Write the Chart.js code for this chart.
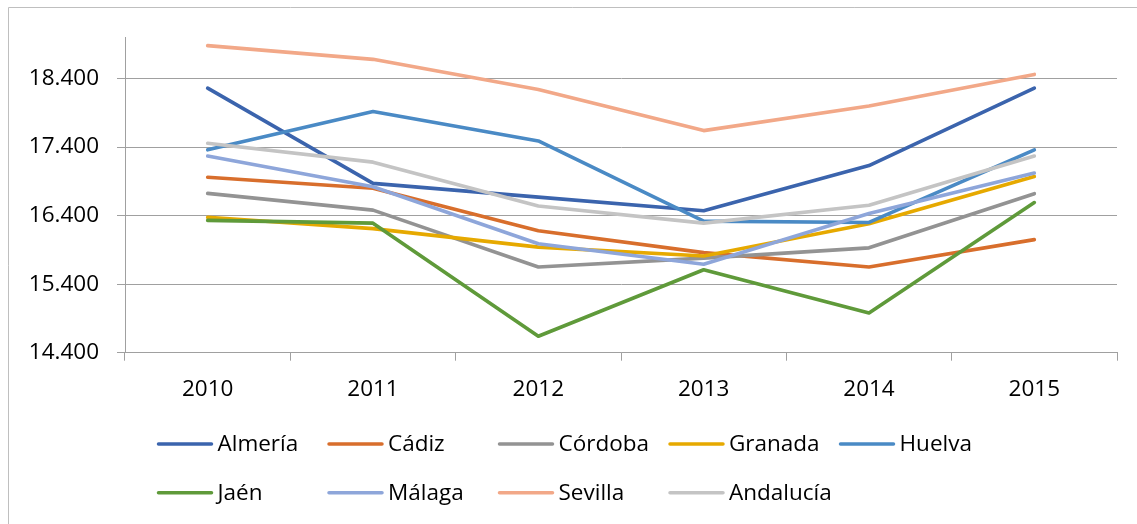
<!DOCTYPE html>
<html lang="es">
<head>
<meta charset="UTF-8">
<title>Andalucía 2010-2015</title>
<script src="https://cdn.jsdelivr.net/npm/chart.js"></script>
<style>
  body { margin: 0; background: #fff; }
  canvas { display: block; }
</style>
</head>
<body>
<canvas id="chart" width="1137" height="524"></canvas>
<script>
// categories and values
const years = ['2010', '2011', '2012', '2013', '2014', '2015'];
const yTicks = [14400, 15400, 16400, 17400, 18400];

const seriesNames = ['Almería', 'Cádiz', 'Córdoba', 'Granada', 'Huelva', 'Jaén', 'Málaga', 'Sevilla', 'Andalucía'];
const almeria   = [18260, 16870, 16670, 16470, 17130, 18260];
const cadiz     = [16960, 16800, 16180, 15860, 15650, 16050];
const cordoba   = [16725, 16480, 15650, 15780, 15930, 16720];
const granada   = [16375, 16210, 15940, 15810, 16280, 16970];
const huelva    = [17360, 17920, 17490, 16320, 16300, 17360];
const jaen      = [16330, 16290, 14640, 15610, 14980, 16590];
const malaga    = [17270, 16820, 15990, 15690, 16430, 17020];
const sevilla   = [18880, 18680, 18240, 17640, 18000, 18460];
const andalucia = [17455, 17180, 16540, 16290, 16550, 17270];

const seriesValues = [almeria, cadiz, cordoba, granada, huelva, jaen, malaga, sevilla, andalucia];
const seriesColors = ['#3B64AD', '#D86E2C', '#939393', '#E6A900', '#4A8AC5', '#5F9A3A', '#8EA6DA', '#F2A888', '#C4C4C4'];

const gridColor = '#A0A0A0';
const fontFamily = "'Open Sans', sans-serif";

// thousands separator with a dot, like the original
function fmt(v) {
  return String(v).replace(/\B(?=(\d{3})+(?!\d))/g, '.');
}

// legend laid out as a grid of 5 columns, plus the outer frame
const legendAndFrame = {
  id: 'legendAndFrame',
  afterDraw(chart) {
    const ctx = chart.ctx;
    ctx.save();
    // frame
    ctx.strokeStyle = '#BFBFBF';
    ctx.lineWidth = 1;
    ctx.beginPath();
    ctx.moveTo(8.5, 524);
    ctx.lineTo(8.5, 7.5);
    ctx.lineTo(1137, 7.5);
    ctx.stroke();

    // legend
    ctx.font = '22.5px ' + fontFamily;
    ctx.textBaseline = 'middle';
    ctx.textAlign = 'left';
    ctx.lineCap = 'round';
    seriesNames.forEach((name, i) => {
      const col = i % 5;
      const row = Math.floor(i / 5);
      const x = 158.5 + col * 170.5;
      const y = 444 + row * 48.7;
      ctx.strokeStyle = seriesColors[i];
      ctx.lineWidth = 3.5;
      ctx.beginPath();
      ctx.moveTo(x, y);
      ctx.lineTo(x + 53, y);
      ctx.stroke();
      ctx.fillStyle = '#000';
      ctx.fillText(name, x + 59, y + 1);
    });
    ctx.restore();
  }
};

const datasets = seriesNames.map((name, i) => ({
  label: name,
  data: seriesValues[i],
  borderColor: seriesColors[i],
  backgroundColor: seriesColors[i],
  borderWidth: 3.6,
  borderCapStyle: 'round',
  borderJoinStyle: 'round',
  pointRadius: 0,
  tension: 0,
  order: seriesNames.length - i   // later series on top, like Excel
}));

Chart.defaults.font.family = fontFamily;
Chart.defaults.font.size = 22.5;
Chart.defaults.color = '#000';

new Chart(document.getElementById('chart'), {
  type: 'line',
  data: { labels: years, datasets: datasets },
  options: {
    responsive: false,
    devicePixelRatio: 1,
    animation: false,
    layout: { padding: { left: 0, top: 37.4, right: 20, bottom: 111.3 } },
    plugins: {
      legend: { display: false },
      tooltip: { enabled: false }
    },
    scales: {
      x: {
        offset: true,
        grid: { drawOnChartArea: false, drawTicks: true, tickLength: 8, color: gridColor, offset: true },
        border: { color: gridColor },
        ticks: { padding: 15, maxRotation: 0 },
        afterFit(scale) { scale.height = 60; }
      },
      y: {
        min: 14400,
        max: 19000,
        afterBuildTicks(scale) {
          scale.ticks = yTicks.map(v => ({ value: v }));
        },
        grid: { color: gridColor, tickLength: 8, drawTicks: true },
        border: { color: gridColor },
        ticks: { padding: 18, callback: v => fmt(v) },
        afterFit(scale) { scale.width = 125; }
      }
    }
  },
  plugins: [legendAndFrame]
});
</script>
</body>
</html>
